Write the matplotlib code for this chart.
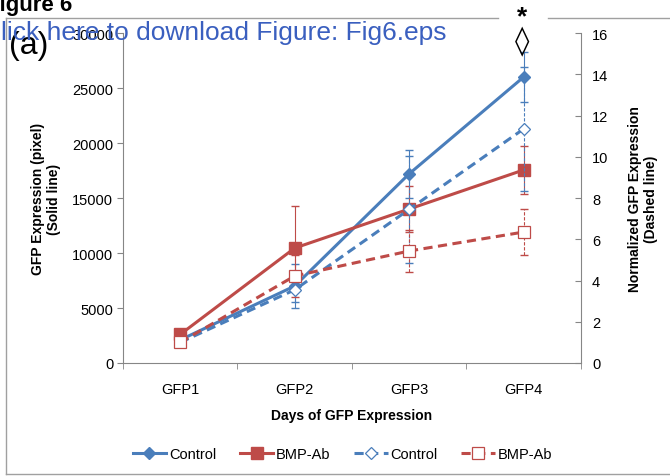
import matplotlib.pyplot as plt
from matplotlib.lines import Line2D

plt.rcParams['font.family'] = ['Liberation Sans', 'DejaVu Sans']

days = ['GFP1', 'GFP2', 'GFP3', 'GFP4']

# solid lines, left axis (pixel)
ctrl_px = [2100, 7000, 17200, 26000]
ctrl_px_err = [300, 2000, 2200, 2300]
bmp_px = [2600, 10450, 14000, 17550]
bmp_px_err = [300, 3800, 2100, 2150]

# dashed lines, right axis (normalized)
ctrl_norm = [1.0, 3.55, 7.45, 11.35]
ctrl_norm_err = [0.15, 0.6, 2.6, 3.0]
bmp_norm = [1.0, 4.22, 5.43, 6.35]
bmp_norm_err = [0.1, 1.0, 1.0, 1.1]

blue = '#4a7ebb'
red = '#be4b48'
grey = '#868686'

x = list(range(len(days)))

fig = plt.figure(figsize=(6.7, 4.77), dpi=100)
ax = fig.add_axes([0.1836, 0.2369, 0.6834, 0.6918])
ax2 = ax.twinx()

# error bars first
ax.errorbar(x, ctrl_px, yerr=ctrl_px_err, fmt='none', ecolor=blue, elinewidth=0.8, capsize=3)
ax.errorbar(x, bmp_px, yerr=bmp_px_err, fmt='none', ecolor=red, elinewidth=0.8, capsize=3)
eb = ax2.errorbar(x, ctrl_norm, yerr=ctrl_norm_err, fmt='none', ecolor=blue, elinewidth=0.8, capsize=3)
eb[2][0].set_linestyle((0, (3, 1.5)))
eb = ax2.errorbar(x, bmp_norm, yerr=bmp_norm_err, fmt='none', ecolor=red, elinewidth=0.8, capsize=3)
eb[2][0].set_linestyle((0, (3, 1.5)))

l1, = ax.plot(x, ctrl_px, color=blue, lw=2.2, marker='D', ms=6, label='Control')
l2, = ax.plot(x, bmp_px, color=red, lw=2.2, marker='s', ms=8, label='BMP-Ab')
l3, = ax2.plot(x, ctrl_norm, color=blue, lw=2.2, ls=(0, (3, 1.8)), marker='D', ms=6,
               mfc='white', mec=blue, mew=0.9, label='Control')
l4, = ax2.plot(x, bmp_norm, color=red, lw=2.2, ls=(0, (3, 1.8)), marker='s', ms=8,
               mfc='white', mec=red, mew=0.9, label='BMP-Ab')

ax.set_xlim(-0.5, 3.5)
ax.set_ylim(0, 30000)
ax2.set_ylim(0, 16)
ax.set_yticks(range(0, 30001, 5000))
ax2.set_yticks(range(0, 17, 2))
ax.set_xticks(x)
ax.set_xticklabels(days)
ax.set_xticks([-0.5, 0.5, 1.5, 2.5, 3.5], minor=True)
ax.tick_params(axis='x', which='major', length=0, pad=14, labelsize=10.5)
ax.tick_params(axis='x', which='minor', length=4, color=grey)
ax.tick_params(axis='y', length=4, color=grey, labelsize=10.5, pad=3)
ax2.tick_params(axis='y', direction='in', length=4, color=grey, labelsize=10.5, pad=8)

for s in ['top', 'right']:
    ax.spines[s].set_visible(False)
for s in ['top', 'left', 'bottom']:
    ax2.spines[s].set_visible(False)
ax.spines['left'].set_color(grey)
ax.spines['bottom'].set_color(grey)
ax2.spines['right'].set_color(grey)

ax.set_ylabel('GFP Expression (pixel)\n(Solid line)', fontsize=10, fontweight='bold', labelpad=8)
ax2.set_ylabel('Normalized GFP Expression\n(Dashed line)', fontsize=10, fontweight='bold',
               rotation=90, labelpad=14)
ax.set_xlabel('Days of GFP Expression', fontsize=10, fontweight='bold', labelpad=8)

fig.legend(handles=[l1, l2, l3, l4], loc='center', bbox_to_anchor=(0.511, 0.046), ncol=4,
           frameon=False, fontsize=10.5, handlelength=2.3, columnspacing=1.6, handletextpad=0.2)

# page frame with gap for the significance marks
W, H = 670, 477
frame = dict(color='#a0a0a0', lw=1.0, transform=fig.transFigure)
fig.add_artist(Line2D([6 / W, 498 / W], [1 - 19 / H, 1 - 19 / H], **frame))
fig.add_artist(Line2D([548 / W, 1], [1 - 19 / H, 1 - 19 / H], **frame))
fig.add_artist(Line2D([6 / W, 6 / W], [1 - 19 / H, 1 - 475 / H], **frame))
fig.add_artist(Line2D([6 / W, 1], [1 - 475 / H, 1 - 475 / H], **frame))

fig.text(522 / W, 1 - 17 / H, '*', ha='center', va='center', fontsize=19, fontweight='bold')
fig.text(522 / W, 1 - 42 / H, '\u25ca', ha='center', va='center', fontsize=21,
         family=['DejaVu Sans'])
fig.text(9 / W, 1 - 46 / H, '(a)', ha='left', va='center', fontsize=23)
fig.text(-14 / W, 1 - 5 / H, 'Figure 6', ha='left', va='center', fontsize=16, fontweight='bold')
fig.text(-18 / W, 1 - 33 / H, 'Click here to download Figure: Fig6.eps', ha='left', va='center',
         fontsize=19, color='#3a5fbf')

fig.savefig('out.png', dpi=100)
